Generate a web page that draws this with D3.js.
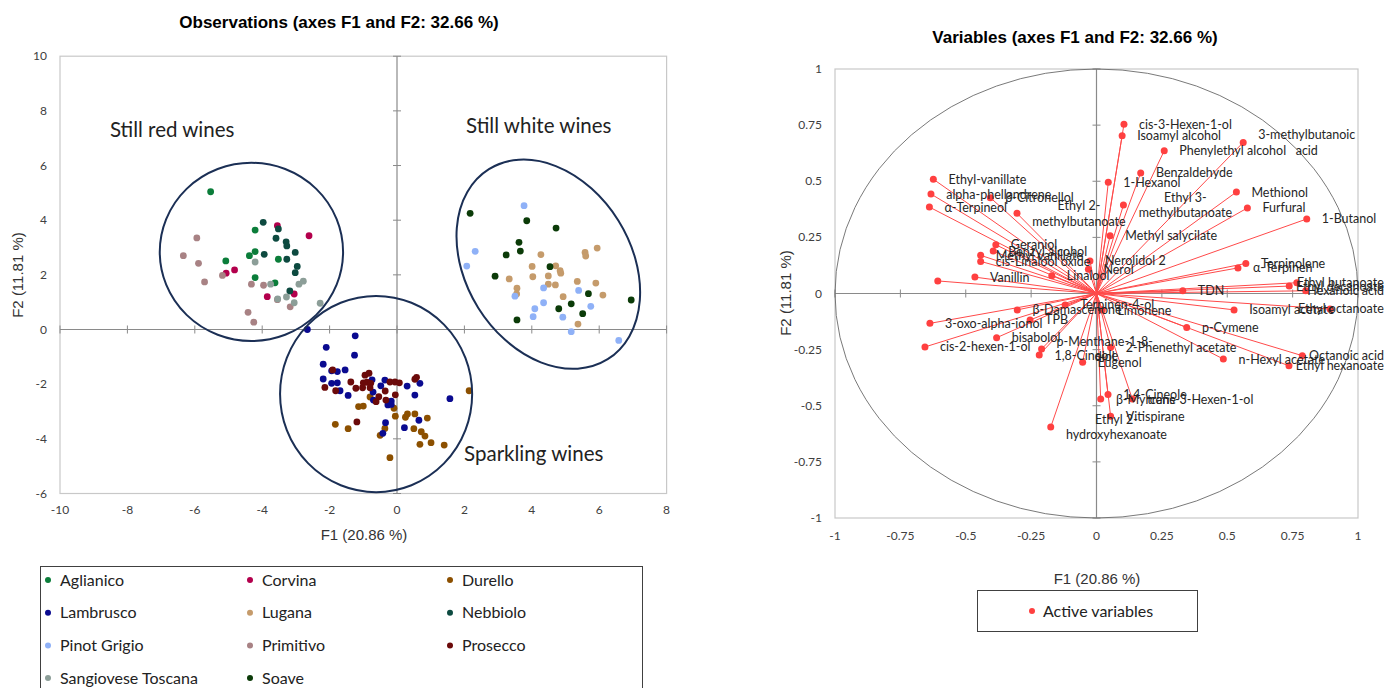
<html>
<head>
<script src="https://d3js.org/d3.v7.min.js"></script>
<style>
  body { margin: 0; background: #fff; }
  text { font-family: Lato, "Open Sans", sans-serif; }
</style>
</head>
<body>
<svg width="1386" height="688"></svg>
<script>
// ---- observations (F1, F2) per wine ----
var aglianico = [[-5.53,5.04],[-4.21,3.64],[-4.21,2.85],[-4.38,2.70],[-5.08,2.51],[-3.52,2.57],[-4.21,1.90],[-3.62,1.71]];
var corvina = [[-3.55,3.80],[-2.61,3.43],[-4.82,2.18],[-5.07,2.06],[-3.85,1.20],[-3.05,1.30]];
var durello = [[2.14,-2.24],[-0.80,-2.47],[-1.14,-2.82],[-1.00,-2.80],[-0.09,-2.88],[-0.05,-3.17],[0.25,-3.21],[0.31,-3.09],[0.53,-3.09],[0.90,-3.24],[-1.83,-3.47],[-1.45,-3.63],[-0.36,-3.62],[-0.50,-3.87],[0.50,-3.63],[0.72,-3.74],[0.83,-3.90],[0.68,-4.20],[1.01,-4.14],[1.40,-4.23],[-0.21,-4.69]];
var lambrusco = [[-2.66,0.0],[-1.24,-0.23],[-2.10,-0.65],[-1.26,-0.94],[-2.19,-1.27],[-1.94,-1.51],[-1.77,-1.54],[-1.54,-1.48],[-2.19,-1.81],[-1.94,-1.97],[-1.77,-1.95],[-1.69,-2.24],[-1.45,-2.41],[-0.74,-1.84],[-0.36,-1.85],[-0.48,-2.06],[-0.71,-2.29],[0.30,-2.07],[0.68,-1.97],[0.53,-2.40],[-0.70,-2.58],[-0.27,-2.76],[-0.17,-2.62],[-0.17,-2.74],[1.57,-2.53],[0.65,-3.32],[0.22,-3.59],[-0.34,-3.41],[-0.42,-3.80]];
var lugana = [[5.94,2.98],[5.58,2.82],[5.60,2.69],[4.27,2.74],[4.01,2.31],[4.71,2.33],[4.84,2.15],[4.86,2.06],[4.03,1.93],[4.49,1.96],[3.33,1.85],[4.49,1.66],[4.70,1.63],[5.35,1.76],[5.90,1.70],[6.11,1.26],[3.56,1.51],[3.55,1.30],[4.93,1.20],[5.37,0.20]];
var nebbiolo = [[-3.97,3.92],[-3.52,3.68],[-3.59,3.34],[-3.29,3.21],[-3.27,3.06],[-3.94,2.75],[-3.02,2.82],[-3.27,2.57],[-2.96,2.31],[-3.02,2.08],[-3.18,1.41]];
var pinotGrigio = [[3.77,4.53],[2.32,2.86],[2.07,2.32],[4.35,1.52],[3.50,1.22],[5.39,1.43],[4.09,0.76],[4.35,0.98],[4.04,0.47],[4.92,0.45],[5.75,0.85],[5.17,-0.08],[6.58,-0.40]];
var primitivo = [[-5.94,3.35],[-6.34,2.70],[-5.89,2.42],[-5.71,1.74],[-5.18,1.98],[-4.32,1.66],[-3.96,1.62],[-3.55,1.09],[-3.17,0.83],[-4.42,0.63],[-4.25,0.27]];
var prosecco = [[-1.91,-1.48],[-2.14,-2.12],[-1.82,-2.24],[-1.37,-1.92],[-1.22,-2.15],[-0.95,-1.67],[-0.83,-1.60],[-1.00,-1.95],[-0.89,-1.93],[-0.78,-1.97],[-1.02,-2.13],[-0.80,-2.13],[-0.54,-2.46],[-0.62,-2.64],[-0.35,-2.25],[-0.33,-2.58],[-0.21,-1.92],[-0.06,-1.92],[0.07,-1.95],[-0.05,-2.39],[0.53,-1.82],[0.58,-1.75],[-1.19,-3.38]];
var sangiovese = [[-4.21,2.47],[-3.75,1.66],[-2.91,1.66],[-2.78,1.77],[-3.28,1.19],[-3.54,1.12],[-3.05,0.98],[-2.28,0.96]];
var soave = [[2.17,4.25],[3.85,3.98],[4.72,3.71],[3.62,3.19],[3.66,2.87],[3.24,2.73],[4.54,2.30],[2.91,1.95],[5.68,1.31],[6.95,1.08],[4.80,0.76],[5.17,0.94],[5.51,0.58],[3.56,0.35]];

var wineNames = ["Aglianico","Corvina","Durello","Lambrusco","Lugana","Nebbiolo","Pinot Grigio","Primitivo","Prosecco","Sangiovese Toscana","Soave"];
var wineData = [aglianico, corvina, durello, lambrusco, lugana, nebbiolo, pinotGrigio, primitivo, prosecco, sangiovese, soave];
var wineColors = ["#0b7d3a","#b3004c","#8c5000","#0a0a90","#c59b6b","#0d4a40","#8fb1f7","#a88284","#6b0a0a","#8c9e98","#0b3b08"];

// group ellipses: centre (F1,F2), radii in axis units, rotation
var groupNames = ["Still red wines","Still white wines","Sparkling wines"];
var groupCx = [-4.32, 4.49, -0.62];
var groupCy = [2.84, 2.39, -2.36];
var groupRx = [2.72, 2.45, 2.85];
var groupRy = [3.26, 4.10, 3.59];
var groupRot = [0, -32, 0];
var groupTextX = [-8.52, 2.05, 1.99];
var groupTextY = [7.30, 7.45, -4.56];

var obsXTicks = [-10,-8,-6,-4,-2,0,2,4,6,8];
var obsYTicks = [-6,-4,-2,0,2,4,6,8,10];

// ---- variables (correlation circle) ----
var varNames = ["Ethyl-vanillate","alpha-phellandrene","α-Terpineol","β-Citronellol","Ethyl 2-\nmethylbutanoate","Geraniol","Benzyl alcohol","Methyl vanillate","cis-Linalool oxide","Vanillin","","Linalool","Nerol","Nerolidol 2",
  "cis-3-Hexen-1-ol","Isoamyl alcohol","Phenylethyl alcohol","3-methylbutanoic\nacid","Benzaldehyde","1-Hexanol","Ethyl 3-\nmethylbutanoate","Methionol","Furfural","1-Butanol","Methyl salycilate",
  "Terpinolene","α-Terpinen","Ethyl butanoate","Ethyl decanoate","Hexanoic acid","TDN","Isoamyl acetate","Ethyl octanoate","p-Cymene","2-Phenethyl acetate","n-Hexyl acetate","Octanoic acid","Ethyl hexanoate",
  "Terpinen-4-ol","β-Damascenone","Limonene","TPB","3-oxo-alpha-ionol","bisabolol","cis-2-hexen-1-ol","p-Menthane-1-8-\ndiol","1,8-Cineole","Eugenol","1,4-Cineole","β-Myrcene","trans-3-Hexen-1-ol","Vitispirane","Ethyl 2-\nhydroxyhexanoate"];
var varF1 = [-0.624,-0.633,-0.639,-0.406,-0.304,-0.385,-0.395,-0.443,-0.443,-0.465,-0.607,-0.171,-0.031,-0.025,
  0.105,0.098,0.259,0.561,0.169,0.045,0.103,0.535,0.577,0.804,0.052,
  0.571,0.541,0.766,0.737,0.800,0.330,0.526,0.893,0.345,0.054,0.485,0.787,0.736,
  -0.120,-0.303,0.022,-0.254,-0.637,-0.382,-0.656,-0.210,-0.219,-0.053,0.044,0.016,0.137,0.054,-0.175];
var varF2 = [0.509,0.443,0.385,0.427,0.357,0.217,0.189,0.170,0.143,0.073,0.056,0.079,0.108,0.145,
  0.754,0.703,0.636,0.673,0.537,0.495,0.394,0.452,0.381,0.332,0.257,
  0.134,0.114,0.048,0.033,0.012,0.012,-0.073,-0.069,-0.151,-0.240,-0.292,-0.277,-0.322,
  -0.051,-0.073,-0.074,-0.118,-0.133,-0.197,-0.238,-0.247,-0.274,-0.306,-0.450,-0.470,-0.470,-0.547,-0.595];
var corXTicks = [-1,-0.75,-0.5,-0.25,0,0.25,0.5,0.75,1];
var corYTicks = [-1,-0.75,-0.5,-0.25,0,0.25,0.5,0.75,1];

var svg = d3.select("svg");
svg.append("rect").attr("width", 1386).attr("height", 688).attr("fill", "#fff");

function fmt(d) { return String(d); }
var arial = "'Liberation Sans', Arial, sans-serif";

// ================= left: observations =================
var xL = d3.scaleLinear().domain([-10, 8]).range([60, 666.6]);
var yL = d3.scaleLinear().domain([-6, 10]).range([493.5, 56.2]);

svg.append("text").attr("x", 339).attr("y", 28).attr("text-anchor", "middle")
  .style("font-family", arial).style("font-weight", "bold").style("font-size", "17px")
  .text("Observations (axes F1 and F2: 32.66 %)");

svg.append("rect").attr("x", xL(-10)).attr("y", yL(10)).attr("width", xL(8) - xL(-10)).attr("height", yL(-6) - yL(10))
  .attr("fill", "none").attr("stroke", "#c8c8c8").attr("stroke-width", 1.2);

var left = svg.append("g");
left.append("line").attr("x1", xL(0)).attr("x2", xL(0)).attr("y1", yL(10)).attr("y2", yL(-6)).attr("stroke", "#8a8a8a").attr("stroke-width", 1.2);
left.append("line").attr("x1", xL(-10)).attr("x2", xL(8)).attr("y1", yL(0)).attr("y2", yL(0)).attr("stroke", "#8a8a8a").attr("stroke-width", 1.2);
left.selectAll(".ty").data(obsYTicks).enter().append("line")
  .attr("x1", xL(0) - 4).attr("x2", xL(0) + 4).attr("y1", function(d){ return yL(d); }).attr("y2", function(d){ return yL(d); })
  .attr("stroke", "#8a8a8a");
left.selectAll(".tx").data(obsXTicks).enter().append("line")
  .attr("y1", yL(0) - 4).attr("y2", yL(0) + 4).attr("x1", function(d){ return xL(d); }).attr("x2", function(d){ return xL(d); })
  .attr("stroke", "#8a8a8a");

left.selectAll(".yl").data(obsYTicks).enter().append("text")
  .attr("x", 47).attr("y", function(d){ return yL(d) + 4; }).attr("text-anchor", "end")
  .style("font-size", "12px").attr("fill", "#404040").text(fmt);
left.selectAll(".xl").data(obsXTicks).enter().append("text")
  .attr("x", function(d){ return xL(d); }).attr("y", 514).attr("text-anchor", "middle")
  .style("font-size", "12px").attr("fill", "#404040").text(fmt);

svg.append("text").attr("x", 364).attr("y", 540).attr("text-anchor", "middle")
  .style("font-family", arial).style("font-size", "15px").attr("fill", "#333")
  .text("F1 (20.86 %)");
svg.append("text").attr("transform", "translate(23,275) rotate(-90)").attr("text-anchor", "middle")
  .style("font-family", arial).style("font-size", "15px").attr("fill", "#333")
  .text("F2 (11.81 %)");

wineData.forEach(function(pts, i) {
  left.selectAll(".p" + i).data(pts).enter().append("circle")
    .attr("cx", function(d){ return xL(d[0]); }).attr("cy", function(d){ return yL(d[1]); })
    .attr("r", 3.4).attr("fill", wineColors[i]);
});

groupNames.forEach(function(g, i) {
  var cx = xL(groupCx[i]), cy = yL(groupCy[i]);
  left.append("ellipse")
    .attr("transform", "translate(" + cx + "," + cy + ") rotate(" + groupRot[i] + ")")
    .attr("rx", xL(groupRx[i]) - xL(0)).attr("ry", yL(0) - yL(groupRy[i]))
    .attr("fill", "none").attr("stroke", "#1b2f55").attr("stroke-width", 2);
  left.append("text").attr("x", xL(groupTextX[i])).attr("y", yL(groupTextY[i]) + 7)
    .style("font-size", "20.5px").attr("fill", "#222").text(g);
});

// legend left
svg.append("rect").attr("x", 40.5).attr("y", 566.5).attr("width", 602).attr("height", 140)
  .attr("fill", "none").attr("stroke", "#404040");
var lg = svg.selectAll(".lg").data(wineNames).enter().append("g")
  .attr("transform", function(d, i){ return "translate(" + [48, 250, 450][i % 3] + "," + (580 + Math.floor(i / 3) * 32.7) + ")"; });
lg.append("circle").attr("r", 3).attr("fill", function(d, i){ return wineColors[i]; });
lg.append("text").attr("x", 12).attr("y", 5.5).style("font-size", "16px").attr("fill", "#222").text(function(d){ return d; });

// ================= right: variables =================
var xR = d3.scaleLinear().domain([-1, 1]).range([835, 1358]);
var yR = d3.scaleLinear().domain([-1, 1]).range([518, 69]);

svg.append("text").attr("x", 1075).attr("y", 43).attr("text-anchor", "middle")
  .style("font-family", arial).style("font-weight", "bold").style("font-size", "17px")
  .text("Variables (axes F1 and F2: 32.66 %)");

svg.append("rect").attr("x", xR(-1)).attr("y", yR(1)).attr("width", xR(1) - xR(-1)).attr("height", yR(-1) - yR(1))
  .attr("fill", "none").attr("stroke", "#c8c8c8").attr("stroke-width", 1.2);

var right = svg.append("g");
right.append("line").attr("x1", xR(0)).attr("x2", xR(0)).attr("y1", yR(1)).attr("y2", yR(-1)).attr("stroke", "#8a8a8a").attr("stroke-width", 1.2);
right.append("line").attr("x1", xR(-1)).attr("x2", xR(1)).attr("y1", yR(0)).attr("y2", yR(0)).attr("stroke", "#8a8a8a").attr("stroke-width", 1.2);
right.selectAll(".ty").data(corYTicks).enter().append("line")
  .attr("x1", xR(0) - 4).attr("x2", xR(0) + 4).attr("y1", function(d){ return yR(d); }).attr("y2", function(d){ return yR(d); })
  .attr("stroke", "#8a8a8a");
right.selectAll(".tx").data(corXTicks).enter().append("line")
  .attr("y1", yR(0) - 4).attr("y2", yR(0) + 4).attr("x1", function(d){ return xR(d); }).attr("x2", function(d){ return xR(d); })
  .attr("stroke", "#8a8a8a");
right.append("ellipse").attr("cx", xR(0)).attr("cy", yR(0)).attr("rx", xR(1) - xR(0)).attr("ry", yR(0) - yR(1))
  .attr("fill", "none").attr("stroke", "#6a6a6a").attr("stroke-width", 0.9);

right.selectAll(".yl").data(corYTicks).enter().append("text")
  .attr("x", 822).attr("y", function(d){ return yR(d) + 4; }).attr("text-anchor", "end")
  .style("font-size", "12px").attr("fill", "#404040").text(fmt);
right.selectAll(".xl").data(corXTicks).enter().append("text")
  .attr("x", function(d){ return xR(d); }).attr("y", 540).attr("text-anchor", "middle")
  .style("font-size", "12px").attr("fill", "#404040").text(fmt);

svg.append("text").attr("x", 1097).attr("y", 584).attr("text-anchor", "middle")
  .style("font-family", arial).style("font-size", "15px").attr("fill", "#333")
  .text("F1 (20.86 %)");
svg.append("text").attr("transform", "translate(791,293) rotate(-90)").attr("text-anchor", "middle")
  .style("font-family", arial).style("font-size", "15px").attr("fill", "#333")
  .text("F2 (11.81 %)");

var vars = varNames.map(function(n, i){ return { name: n, x: varF1[i], y: varF2[i] }; });
right.selectAll(".ray").data(vars).enter().append("line")
  .attr("x1", xR(0)).attr("y1", yR(0))
  .attr("x2", function(d){ return xR(d.x); }).attr("y2", function(d){ return yR(d.y); })
  .attr("stroke", "#ff4a4a").attr("stroke-width", 1);
right.selectAll(".vp").data(vars).enter().append("circle")
  .attr("cx", function(d){ return xR(d.x); }).attr("cy", function(d){ return yR(d.y); })
  .attr("r", 3.5).attr("fill", "#ff4040");

// labels: right of the point, lines centred, pulled back in at the page edge
vars.forEach(function(d) {
  if (!d.name) return;
  var lines = d.name.split("\n");
  var t = right.append("text").style("font-size", "12.5px").attr("fill", "#262626").attr("text-anchor", "middle");
  lines.forEach(function(l, k) {
    t.append("tspan").attr("x", 0).attr("y", (k - (lines.length - 1) / 2) * 15.5 + 4.5).text(l);
  });
  var w = t.node().getBBox().width;
  var lx = xR(d.x) + 15;
  if (lx + w > 1384) lx = 1384 - w;
  t.attr("transform", "translate(" + (lx + w / 2) + "," + yR(d.y) + ")");
});

// legend right
svg.append("rect").attr("x", 977.5).attr("y", 590.5).attr("width", 220).attr("height", 41)
  .attr("fill", "none").attr("stroke", "#404040");
svg.append("circle").attr("cx", 1032).attr("cy", 611).attr("r", 3).attr("fill", "#ff4040");
svg.append("text").attr("x", 1043).attr("y", 616.5).style("font-size", "16px").attr("fill", "#222").text("Active variables");
</script>
</body>
</html>
